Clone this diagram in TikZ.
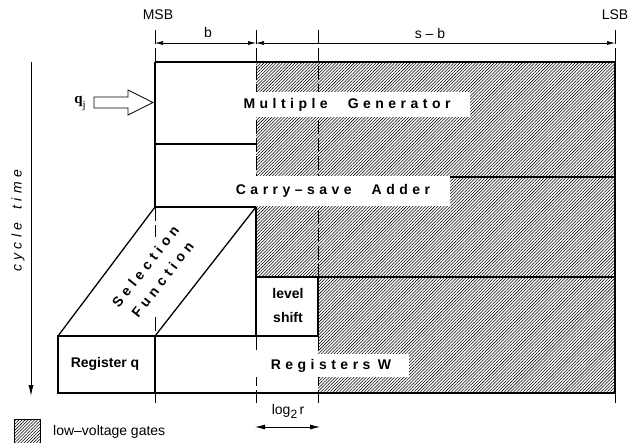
\documentclass[tikz,border=0pt]{standalone}
\usepackage{fontspec}
\setmainfont{Liberation Sans}
\newfontfamily\qfont{Liberation Serif}
\usetikzlibrary{patterns.meta,arrows.meta}
\begin{document}
\begin{tikzpicture}[x=1pt,y=-1pt,
  boxline/.style={line width=1.3pt},
  guide/.style={line width=0.7pt, dash pattern=on 14pt off 4pt},
  hatch/.style={pattern={Lines[angle=45,distance=2.2pt,line width=0.55pt]}},
  lbl/.style={font=\fontsize{14}{16}\selectfont, inner sep=0pt},
  blbl/.style={font=\fontsize{14}{16}\selectfont\bfseries, inner sep=0pt},
  wide/.style={font=\fontsize{14}{16}\selectfont\bfseries\addfontfeature{LetterSpace=32}, fill=white, inner sep=0pt},
  dimarrow/.style={line width=0.6pt, {Latex[length=8pt,width=4pt]}-{Latex[length=8pt,width=4pt]}},
]
\useasboundingbox (0,0) rectangle (639,442);

% named coordinates
\coordinate (dmsb) at (155,43);
\coordinate (db) at (256,43);
\coordinate (dlsb) at (615,43);
\coordinate (ttop) at (31,62);
\coordinate (tbot) at (31,396);
\coordinate (la) at (255,427);
\coordinate (lb) at (320,427);

% hatched regions
\fill[hatch] (256,62) rectangle (615,277);
\fill[hatch] (318,277) rectangle (615,393);

% dashed guides
\draw[guide] (155,30) -- (155,62);
\draw[guide] (155,207) -- (155,237);
\draw[guide] (155,317) -- (155,336);
\draw[guide] (155,393) -- (155,403);
\draw[guide] (256,30) -- (256,207);
\draw[guide] (256,336) -- (256,403);
\draw[guide] (318,30) -- (318,277);
\draw[guide] (318,336) -- (318,403);
\draw[guide] (615,30) -- (615,62);
\draw[guide] (615,393) -- (615,403);

% line hidden under the CSA label
\draw[boxline] (256,177) -- (615,177);

% labels with white boxes
\node[wide, minimum width=246pt, minimum height=25pt] (mg) at (347,104.5)
  {Multiple\hspace{20pt}Generator};
\node[wide, minimum width=234pt, minimum height=30pt] (csa) at (333,191)
  {Carry–save\hspace{20pt}Adder};
\node[wide, minimum width=156pt, minimum height=23pt] (rw) at (331,365.5)
  {Registers\hspace{7.5pt}W};

% solid structure
\draw[boxline] (155,62) -- (615,62) -- (615,393) -- (58,393) -- (58,336) -- (318,336);
\draw[boxline] (155,62) -- (155,207) -- (256,207);
\draw[boxline] (155,144) -- (256,144);
\draw[boxline] (58,336) -- (155,207);
\draw[boxline] (155,336) -- (256,207);
\draw[boxline] (256,207) -- (256,336);
\draw[boxline] (256,277) -- (615,277);
\draw[boxline] (318,277) -- (318,336);
\draw[boxline] (155,336) -- (155,393);

% other labels
\node[blbl, align=center, font=\fontsize{14}{24}\selectfont\bfseries] (ls) at (288,305) {level\\shift};
\node[blbl] (rq) at (105,364) {Register q};
\node[inner sep=0pt, rotate=52, align=center,
  font=\fontsize{14}{21.6}\selectfont\bfseries\addfontfeature{LetterSpace=33}] (sf) at (154,273)
  {Selection\\Function};

% dimension arrows
\draw[dimarrow] (dmsb) -- (db);
\draw[dimarrow] (db) -- (dlsb);
\node[lbl] (msb) at (158,15) {MSB};
\node[lbl] (lsb) at (615,15) {LSB};
\node[lbl] (bl) at (208,32) {b};
\node[lbl] (sb) at (430,33) {s – b};

% cycle time axis
\draw[line width=0.8pt, -{Latex[length=11pt,width=5pt]}] (ttop) -- (tbot);
\node[inner sep=0pt, rotate=90, font=\fontsize{14}{16}\selectfont\itshape\addfontfeature{LetterSpace=31}] (ct) at (18,221)
  {cycle\hspace{13pt}time};

% q_j input arrow
\draw[line width=0.8pt] (94,97) -- (128,97) -- (128,90) -- (153,102.5) -- (128,115) -- (128,108) -- (94,108) -- cycle;
\node[inner sep=0pt] (qj) at (80,104)
  {\qfont\fontsize{15}{15}\selectfont\bfseries q\raisebox{-5pt}{\fontsize{11}{11}\selectfont\mdseries j}};

% log2 r
\draw[line width=0.8pt, {Latex[length=10pt,width=5pt]}-{Latex[length=10pt,width=5pt]}] (la) -- (lb);
\node[lbl] (lg) at (288,411) {log\raisebox{-4pt}{\fontsize{12}{12}\selectfont 2}\,r};

% legend
\draw[hatch] (14,419) rectangle (40,444);
\draw[line width=0.6pt] (14,444) -- (14,419) -- (40,419) -- (40,444);
\node[lbl, anchor=west] (lv) at (53,432) {low–voltage gates};
\end{tikzpicture}
\end{document}
